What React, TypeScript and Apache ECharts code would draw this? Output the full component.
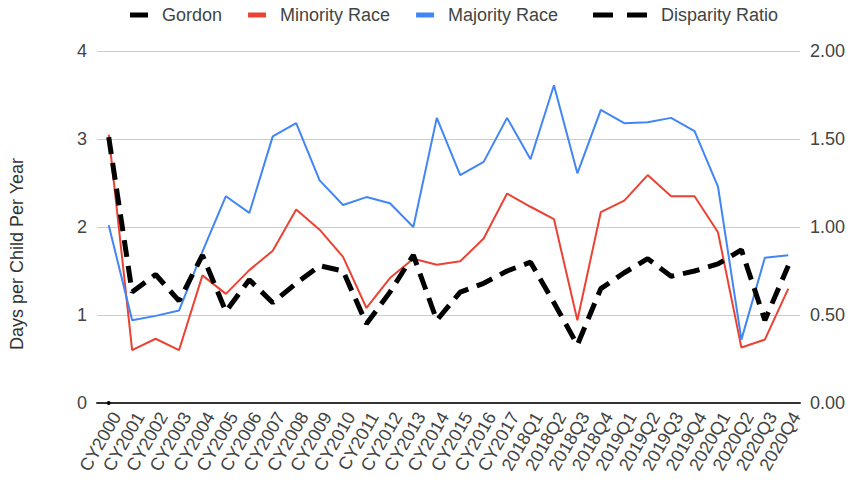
import React, { useEffect, useRef } from "react";
import * as echarts from "echarts";

const categories = [
  "CY2000", "CY2001", "CY2002", "CY2003", "CY2004", "CY2005", "CY2006", "CY2007",
  "CY2008", "CY2009", "CY2010", "CY2011", "CY2012", "CY2013", "CY2014", "CY2015",
  "CY2016", "CY2017", "2018Q1", "2018Q2", "2018Q3", "2018Q4", "2019Q1", "2019Q2",
  "2019Q3", "2019Q4", "2020Q1", "2020Q2", "2020Q3", "2020Q4",
];

const gordon: (number | null)[] = [
  0, null, null, null, null, null, null, null, null, null, null, null, null, null, null,
  null, null, null, null, null, null, null, null, null, null, null, null, null, null, null,
];

const minorityRace = [
  3.05, 0.6, 0.73, 0.6, 1.45, 1.24, 1.51, 1.73, 2.2, 1.97, 1.66, 1.08, 1.42, 1.64, 1.57,
  1.61, 1.87, 2.38, 2.23, 2.09, 0.94, 2.17, 2.3, 2.59, 2.35, 2.35, 1.94, 0.63, 0.72, 1.3,
];

const majorityRace = [
  2.02, 0.94, 0.99, 1.05, 1.72, 2.35, 2.16, 3.03, 3.18, 2.53, 2.25, 2.34, 2.27, 2.0, 3.24,
  2.59, 2.74, 3.24, 2.77, 3.61, 2.61, 3.33, 3.18, 3.19, 3.24, 3.09, 2.46, 0.72, 1.65, 1.68,
];

const disparityRatio = [
  1.51, 0.63, 0.73, 0.58, 0.84, 0.52, 0.7, 0.57, 0.68, 0.78, 0.75, 0.45, 0.63, 0.84, 0.47,
  0.63, 0.68, 0.75, 0.8, 0.57, 0.33, 0.65, 0.74, 0.82, 0.72, 0.75, 0.79, 0.87, 0.47, 0.78,
];

const leftTicks = { min: 0, max: 4, interval: 1 };
const rightTicks = { min: 0, max: 2, interval: 0.5 };

const FONT = "'Liberation Sans', Arial, sans-serif";

export default function App() {
  const ref = useRef<HTMLDivElement>(null);

  useEffect(() => {
    document.body.style.margin = "0";
    if (!ref.current) return;
    const chart = echarts.init(ref.current, undefined, { renderer: "svg" });
    const legendText = {
      color: "#444",
      fontSize: 18,
      fontFamily: FONT,
      padding: [0, 0, 0, 9],
    };
    chart.setOption({
      animation: false,
      backgroundColor: "#fff",
      textStyle: { fontFamily: FONT },
      legend: [
        {
          left: 125,
          top: 1,
          itemWidth: 18,
          itemHeight: 5,
          itemGap: 26,
          icon: "rect",
          textStyle: legendText,
          data: ["Gordon", "Minority Race", "Majority Race"],
        },
        {
          left: 588,
          top: 1,
          itemWidth: 54,
          itemHeight: 5,
          icon: "path://M0,0h20v5h-20z M34,0h20v5h-20z",
          textStyle: legendText,
          data: ["Disparity Ratio"],
        },
      ],
      grid: { left: 97, right: 52, top: 51, bottom: 81, containLabel: false },
      xAxis: {
        type: "category",
        data: categories,
        boundaryGap: true,
        axisLine: { lineStyle: { color: "#333", width: 2 } },
        axisTick: {
          alignWithLabel: true,
          inside: true,
          length: 8,
          lineStyle: { color: "#333", width: 1 },
        },
        axisLabel: {
          rotate: 60,
          interval: 0,
          margin: 6,
          color: "#444",
          fontSize: 18,
          fontFamily: FONT,
          verticalAlign: "top",
        },
      },
      yAxis: [
        {
          type: "value",
          min: leftTicks.min,
          max: leftTicks.max,
          interval: leftTicks.interval,
          axisLine: { show: false },
          axisTick: { show: false },
          axisLabel: { color: "#444", fontSize: 18, margin: 10, fontFamily: FONT },
          splitLine: { lineStyle: { color: "#ccc", width: 1 } },
        },
        {
          type: "value",
          min: rightTicks.min,
          max: rightTicks.max,
          interval: rightTicks.interval,
          axisLine: { show: false },
          axisTick: { show: false },
          axisLabel: {
            color: "#444",
            fontSize: 18,
            margin: 10,
            fontFamily: FONT,
            formatter: (v: number) => v.toFixed(2),
          },
          splitLine: { show: false },
        },
      ],
      graphic: [
        {
          type: "text",
          x: 17,
          y: 254,
          rotation: Math.PI / 2,
          style: {
            text: "Days per Child Per Year",
            fontSize: 18,
            fontFamily: FONT,
            fill: "#333",
            align: "center",
            verticalAlign: "middle",
          },
        },
      ],
      series: [
        {
          name: "Gordon",
          type: "line",
          data: gordon,
          yAxisIndex: 0,
          color: "#000",
          showSymbol: true,
          symbol: "circle",
          symbolSize: 4,
          lineStyle: { width: 2, color: "#000" },
          z: 5,
        },
        {
          name: "Minority Race",
          type: "line",
          data: minorityRace,
          yAxisIndex: 0,
          color: "#ea4335",
          showSymbol: false,
          lineStyle: { width: 2, color: "#ea4335" },
          z: 2,
        },
        {
          name: "Majority Race",
          type: "line",
          data: majorityRace,
          yAxisIndex: 0,
          color: "#4285f4",
          showSymbol: false,
          lineStyle: { width: 2, color: "#4285f4" },
          z: 3,
        },
        {
          name: "Disparity Ratio",
          type: "line",
          data: disparityRatio,
          yAxisIndex: 1,
          color: "#000",
          showSymbol: false,
          lineStyle: { width: 5, color: "#000", type: [17, 9], cap: "butt" },
          z: 4,
        },
      ],
    });
    return () => chart.dispose();
  }, []);

  return <div ref={ref} style={{ width: 852, height: 484 }} />;
}
